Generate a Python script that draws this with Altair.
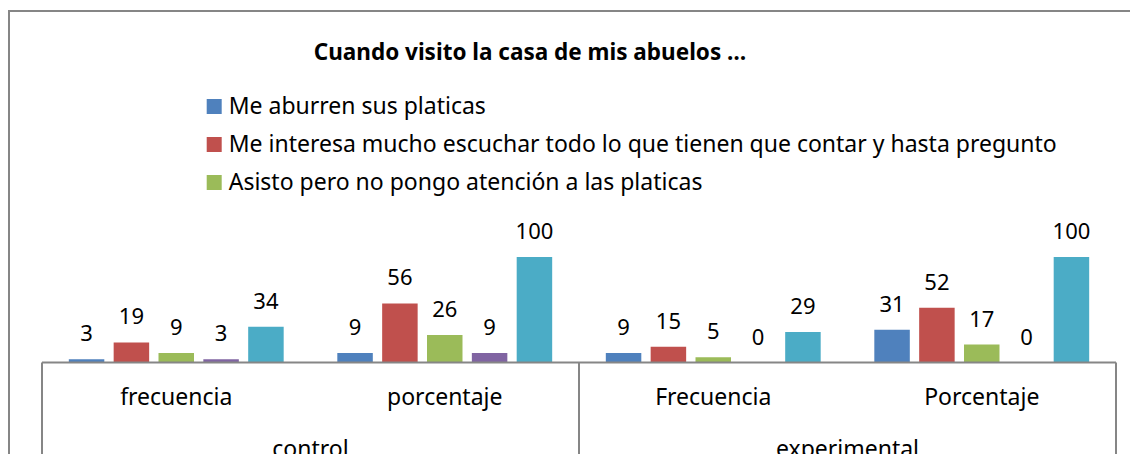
import altair as alt
import pandas as pd

# ---------------- data ----------------
titulo = "Cuando visito la casa de mis abuelos …"
grupos = ["control", "control", "experimental", "experimental"]
medidas = ["frecuencia", "porcentaje", "Frecuencia", "Porcentaje"]
series = [
    "Me aburren sus platicas",
    "Me interesa mucho escuchar todo lo que tienen que contar y hasta pregunto",
    "Asisto pero no pongo atención a las platicas",
    "Otra respuesta",
    "Total",
]
v_aburren = [3, 9, 9, 31]
v_interesa = [19, 56, 15, 52]
v_asisto = [9, 26, 5, 17]
v_otra = [3, 9, 0, 0]
v_total = [34, 100, 29, 100]
colores = ["#4F81BD", "#C0504D", "#9BBB59", "#8064A2", "#4BACC6"]

# ---------------- tables ----------------
cats = [f"{g}|{m}" for g, m in zip(grupos, medidas)]
rows = []
for s, vals in zip(series, [v_aburren, v_interesa, v_asisto, v_otra, v_total]):
    for c, v in zip(cats, vals):
        rows.append({"cat": c, "serie": s, "valor": v})
df = pd.DataFrame(rows)

lvl1 = pd.DataFrame({"pos": [i + 0.5 for i in range(len(medidas))], "txt": medidas})
grp_names = list(dict.fromkeys(grupos))
lvl2 = pd.DataFrame({
    "pos": [sum(i for i, g in enumerate(grupos) if g == n) / grupos.count(n) + 0.5 for n in grp_names],
    "txt": grp_names,
})
divs = pd.DataFrame({"pos": [0, grupos.count(grupos[0]), len(grupos)]})
one = pd.DataFrame({"t": [titulo]})

W = 1074
H = 105.5
FONT = "Noto Sans"
GRAY = "#868686"

xq = alt.Scale(domain=[0, len(medidas)], nice=False, zero=False)
xband = alt.Scale(paddingInner=0, paddingOuter=0)
xoff = alt.Scale(paddingInner=0.2085, paddingOuter=0.598)

bars = alt.Chart(df).mark_bar().encode(
    x=alt.X("cat:N", sort=cats, scale=xband, axis=None),
    xOffset=alt.XOffset("serie:N", sort=series, scale=xoff),
    y=alt.Y("valor:Q", scale=alt.Scale(domain=[0, 100]), axis=None),
    color=alt.Color(
        "serie:N", sort=series,
        scale=alt.Scale(domain=series, range=colores),
        legend=alt.Legend(
            orient="none", legendX=160.7, legendY=-162, title=None,
            values=series[:3], symbolType="square", symbolSize=225,
            symbolStrokeWidth=0, labelFontSize=23, labelFont=FONT,
            labelColor="black", labelLimit=2000, rowPadding=14,
            labelOffset=3, padding=0,
        ),
    ),
)

vlabels = alt.Chart(df).mark_text(
    baseline="alphabetic", dy=-18, fontSize=22, font=FONT, color="black"
).encode(
    x=alt.X("cat:N", sort=cats, scale=xband, axis=None),
    xOffset=alt.XOffset("serie:N", sort=series, scale=xoff),
    y=alt.Y("valor:Q", scale=alt.Scale(domain=[0, 100]), axis=None),
    text="valor:Q",
)

axis_line = alt.Chart(one).mark_rule(color=GRAY, strokeWidth=2).encode(
    x=alt.value(0), x2=alt.value(W), y=alt.value(H)
)

div_lines = alt.Chart(divs).mark_rule(color=GRAY, strokeWidth=2).encode(
    x=alt.X("pos:Q", scale=xq, axis=None), y=alt.value(H), y2=alt.value(H + 300)
)

lvl1_text = alt.Chart(lvl1).mark_text(
    baseline="alphabetic", fontSize=23, font=FONT, color="black"
).encode(x=alt.X("pos:Q", scale=xq, axis=None), y=alt.value(148), text="txt:N")

lvl2_text = alt.Chart(lvl2).mark_text(
    baseline="alphabetic", fontSize=23, font=FONT, color="black"
).encode(x=alt.X("pos:Q", scale=xq, axis=None), y=alt.value(200), text="txt:N")

title_text = alt.Chart(one).mark_text(
    baseline="alphabetic", align="center", fontSize=22.5, font=FONT,
    fontWeight="bold", color="black"
).encode(x=alt.value(488), y=alt.value(-197.5), text="t:N")

frame = alt.Chart(one).mark_rect(filled=False, stroke=GRAY, strokeWidth=2).encode(
    x=alt.value(-33), x2=alt.value(W + 400), y=alt.value(-246), y2=alt.value(H + 400)
)

chart = alt.layer(
    frame, bars, vlabels, axis_line, div_lines, lvl1_text, lvl2_text, title_text
).resolve_scale(x="independent").properties(
    width=W, height=H,
    autosize=alt.AutoSizeParams(type="none"),
    padding={"left": 34, "top": 249, "right": 14, "bottom": 91.5},
).configure_view(stroke=None)

chart.save("out.html", embed_options={"renderer": "svg", "actions": False})
